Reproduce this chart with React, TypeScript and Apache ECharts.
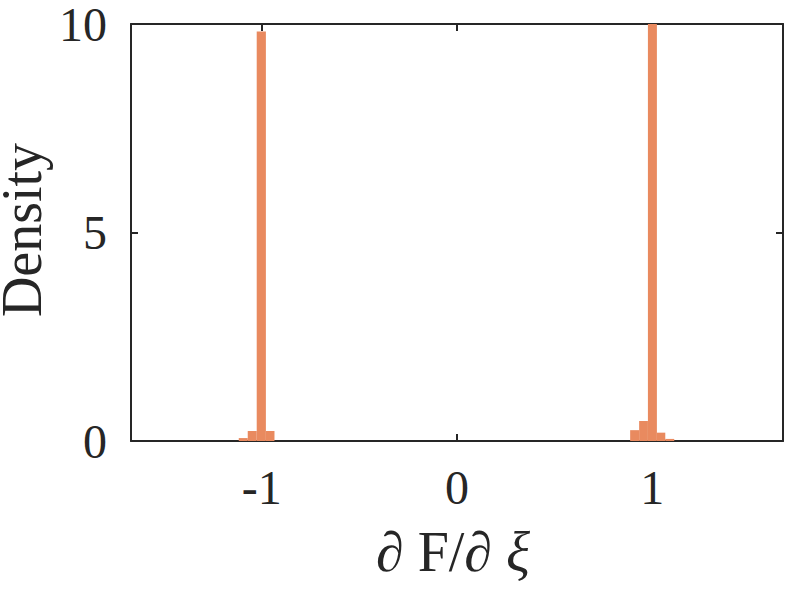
import React, { useEffect, useRef } from "react";
import * as echarts from "echarts";

// Histogram bins (edges) and densities near -1 and +1
const leftEdges = [-1.118, -1.072, -1.026, -0.979, -0.935];
const leftDensity = [0.07, 0.24, 9.82, 0.24];
const rightEdges = [0.887, 0.933, 0.978, 1.024, 1.067, 1.113];
const rightDensity = [0.26, 0.48, 10.0, 0.2, 0.05];

const xTicks = [-1, 0, 1];
const yTicks = [0, 5, 10];
const xRange = [-1.67, 1.67];
const yRange = [0, 10];

const barColor = "#E98A5F";
const axisColor = "#262626";
const font = "'Liberation Serif', 'Times New Roman', serif";

function buildBins(edges: number[], dens: number[]) {
  return dens.map((d, i) => [edges[i], edges[i + 1], d]);
}

export default function App() {
  const ref = useRef<HTMLDivElement>(null);
  useEffect(() => {
    if (!ref.current) return;
    const chart = echarts.init(ref.current, undefined, { renderer: "svg" });
    const data = [...buildBins(leftEdges, leftDensity), ...buildBins(rightEdges, rightDensity)];
    const axisCommon = {
      axisLine: { show: true, onZero: false, lineStyle: { color: axisColor, width: 2 } },
      axisTick: { show: true, inside: true, length: 7, lineStyle: { color: axisColor, width: 2 } },
      splitLine: { show: false },
    };
    chart.setOption({
      animation: false,
      backgroundColor: "#ffffff",
      grid: { left: 131, right: 10, top: 17, bottom: 150, containLabel: false },
      xAxis: [
        {
          type: "value",
          position: "bottom",
          min: xRange[0],
          max: xRange[1],
          ...axisCommon,
          axisTick: { ...axisCommon.axisTick, customValues: xTicks },
          axisLabel: {
            customValues: xTicks,
            color: axisColor,
            fontFamily: font,
            fontSize: 48,
            margin: 22,
            formatter: (v: number) => String(v),
          },
        },
        {
          type: "value",
          position: "top",
          min: xRange[0],
          max: xRange[1],
          ...axisCommon,
          axisTick: { ...axisCommon.axisTick, customValues: xTicks },
          axisLabel: { show: false },
        },
      ],
      yAxis: [
        {
          type: "value",
          position: "left",
          min: yRange[0],
          max: yRange[1],
          ...axisCommon,
          axisTick: { ...axisCommon.axisTick, customValues: yTicks },
          axisLabel: {
            customValues: yTicks,
            color: axisColor,
            fontFamily: font,
            fontSize: 48,
            lineHeight: 34,
            margin: 24,
            formatter: (v: number) => String(v),
          },
        },
        {
          type: "value",
          position: "right",
          min: yRange[0],
          max: yRange[1],
          ...axisCommon,
          axisTick: { ...axisCommon.axisTick, customValues: yTicks },
          axisLabel: { show: false },
        },
      ],
      series: [
        {
          type: "custom",
          xAxisIndex: 0,
          yAxisIndex: 0,
          data,
          clip: true,
          renderItem: (params: any, api: any) => {
            const x0 = api.value(0);
            const x1 = api.value(1);
            const y = Math.min(api.value(2), yRange[1]);
            const p0 = api.coord([x0, 0]);
            const p1 = api.coord([x1, y]);
            return {
              type: "rect",
              shape: { x: p0[0], y: p1[1], width: p1[0] - p0[0], height: p0[1] - p1[1] },
              style: { fill: barColor },
            };
          },
          z: 1,
        },
      ],
      graphic: [
        {
          type: "text",
          x: 22,
          y: 230,
          rotation: Math.PI / 2,
          style: {
            text: "Density",
            fill: axisColor,
            font: `56px ${font}`,
            lineHeight: 40,
            align: "center",
            verticalAlign: "middle",
          },
        },
        {
          type: "text",
          x: 453,
          y: 552,
          style: {
            text: "{i|∂} F/{i|∂} {i|ξ}",
            fill: axisColor,
            font: `56px ${font}`,
            align: "center",
            verticalAlign: "middle",
            rich: {
              i: { fontStyle: "italic", fontFamily: font, fontSize: 56, fill: axisColor },
            },
          },
        },
      ],
    });
    return () => chart.dispose();
  }, []);
  return (
    <div
      ref={ref}
      style={{ position: "fixed", left: 0, top: 0, width: 793, height: 591 }}
    />
  );
}
